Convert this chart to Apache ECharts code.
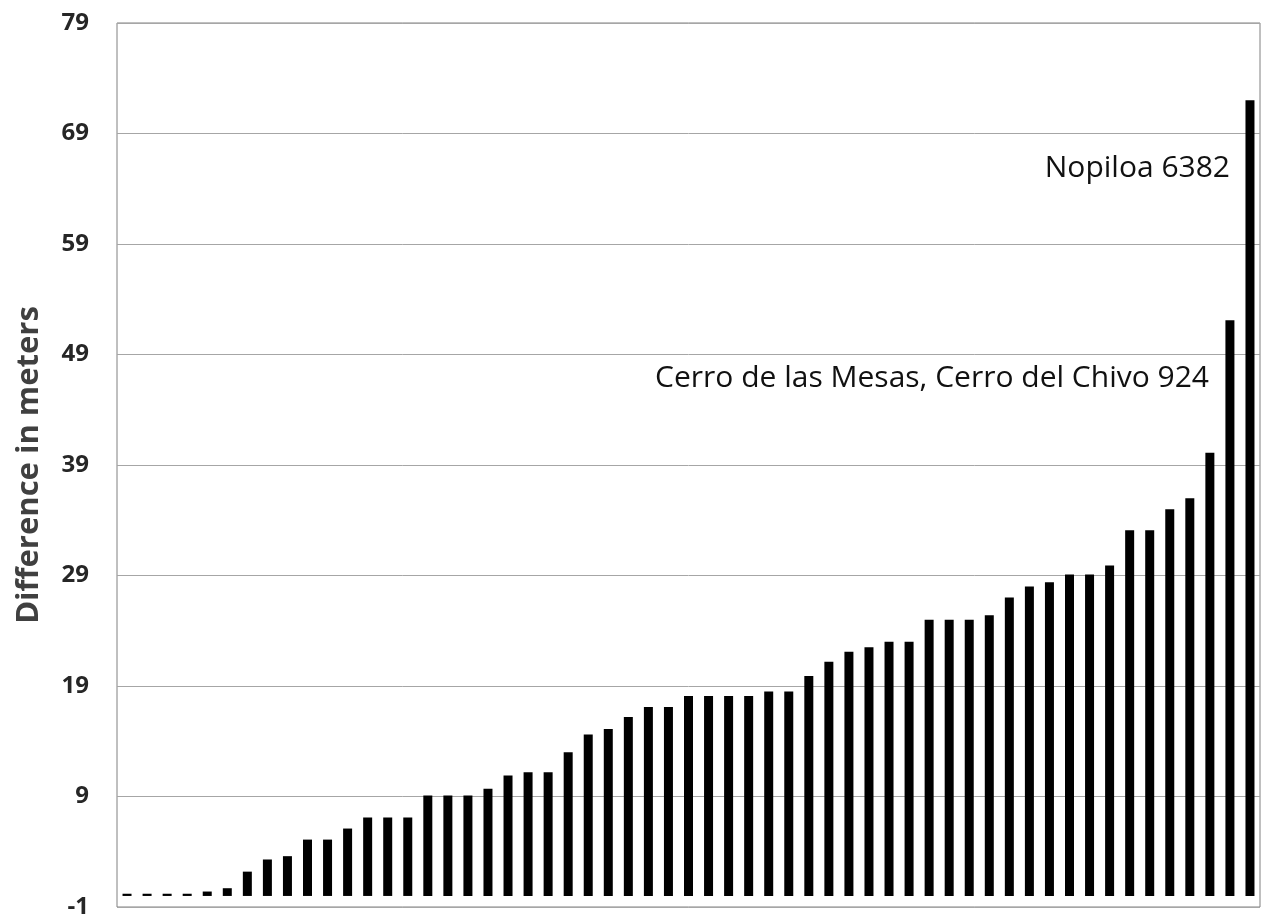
<!DOCTYPE html>
<html>
<head>
<meta charset="utf-8">
<script src="https://cdn.jsdelivr.net/npm/echarts@6/dist/echarts.min.js"></script>
<style>
html,body{margin:0;padding:0;background:#fff;}
#chart{width:1262px;height:919px;}
</style>
</head>
<body>
<div id="chart"></div>
<script>
// Data
var categories = [];
for (var i = 1; i <= 57; i++) categories.push(String(i));
var differences = [
  0.2, 0.2, 0.2, 0.2, 0.4, 0.7, 2.2, 3.3, 3.6, 5.1,
  5.1, 6.1, 7.1, 7.1, 7.1, 9.1, 9.1, 9.1, 9.7, 10.9,
  11.2, 11.2, 13.0, 14.6, 15.1, 16.2, 17.1, 17.1, 18.1, 18.1,
  18.1, 18.1, 18.5, 18.5, 19.9, 21.2, 22.1, 22.5, 23.0, 23.0,
  25.0, 25.0, 25.0, 25.4, 27.0, 28.0, 28.4, 29.1, 29.1, 29.9,
  33.1, 33.1, 35.0, 36.0, 40.1, 52.1, 72.0
];
var yTicks = [-1, 9, 19, 29, 39, 49, 59, 69, 79];
var yTitle = 'Difference in meters';
var annotations = ['Nopiloa 6382', 'Cerro de las Mesas, Cerro del Chivo 924'];

var chart = echarts.init(document.getElementById('chart'), null, {renderer: 'canvas'});
var font = '"Open Sans", "DejaVu Sans", sans-serif';
chart.setOption({
  animation: false,
  backgroundColor: '#ffffff',
  grid: {
    left: 117, right: 2, top: 23, bottom: 9,
    show: true, borderColor: '#808080', borderWidth: 1, backgroundColor: 'transparent'
  },
  xAxis: {
    type: 'category',
    data: categories,
    axisLine: {show: false},
    axisTick: {show: false},
    axisLabel: {show: false},
    splitLine: {show: false}
  },
  yAxis: {
    type: 'value',
    min: yTicks[0],
    max: yTicks[yTicks.length - 1],
    interval: 10,
    name: yTitle,
    nameLocation: 'middle',
    nameGap: 72,
    nameRotate: 90,
    nameTextStyle: {fontFamily: font, fontSize: 31, fontWeight: 'bold', color: '#404040'},
    axisLine: {show: false},
    axisTick: {show: false},
    axisLabel: {fontFamily: font, fontSize: 24, fontWeight: 'bold', color: '#262626', margin: 28},
    splitLine: {show: true, lineStyle: {color: '#a6a6a6', width: 1}}
  },
  series: [{
    type: 'bar',
    data: differences,
    barWidth: 9,
    itemStyle: {color: '#000000'}
  }],
  graphic: [
    {type: 'text', x: 1230, y: 168,
     style: {text: annotations[0], font: '30px "Open Sans", sans-serif', fill: '#111',
             textAlign: 'right', textVerticalAlign: 'middle'}},
    {type: 'text', x: 1209, y: 378,
     style: {text: annotations[1], font: '30px "Open Sans", sans-serif', fill: '#111',
             textAlign: 'right', textVerticalAlign: 'middle'}}
  ]
});
</script>
</body>
</html>
